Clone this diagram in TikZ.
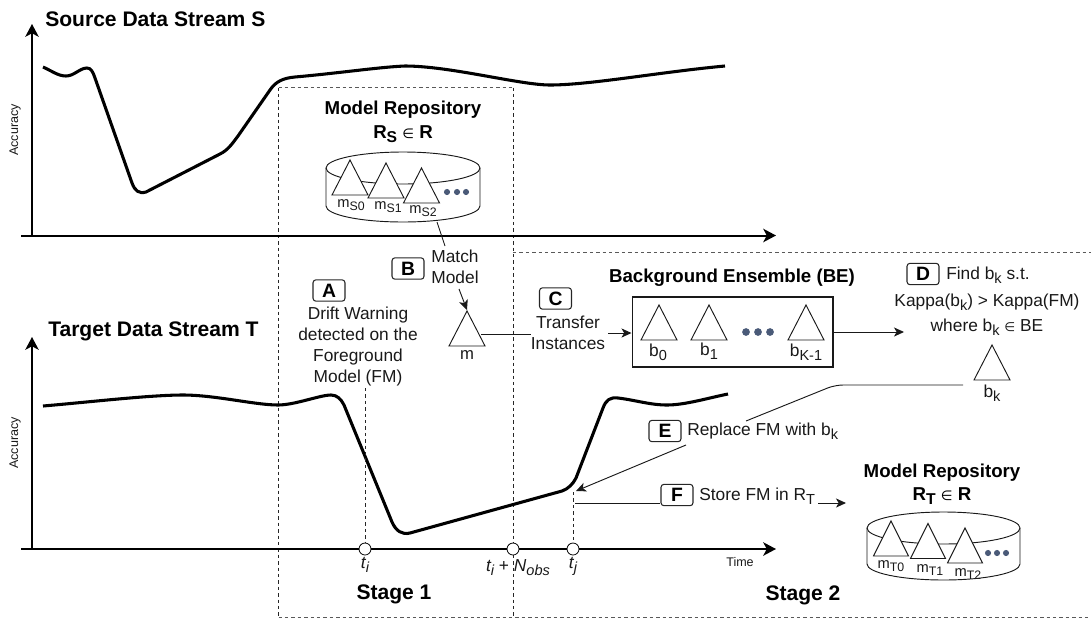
\documentclass[tikz,border=0pt]{standalone}
\usepackage{fontspec}
\usepackage{graphicx}
\setmainfont{Liberation Sans}
\newfontfamily\djv{DejaVu Sans}
\usetikzlibrary{arrows.meta}
\definecolor{dotc}{HTML}{4A5A78}
\newcommand{\lowr}[1]{\raisebox{-0.42ex}{\scalebox{0.84}{#1}}}
\newcommand{\elem}{{\mdseries\djv\scalebox{0.72}{∈}}}
\tikzset{
  x=0.75pt,y=-0.75pt,
  txt/.style={font=\fontsize{13}{15.6}\selectfont,inner sep=0pt,align=center,text=black!90},
  small/.style={font=\fontsize{11}{13}\selectfont,inner sep=0pt,text=black!90},
  ital/.style={font=\itshape\fontsize{13}{15}\selectfont,inner sep=0pt,text=black!90},
  head/.style={font=\bfseries\fontsize{14}{17.5}\selectfont,inner sep=0pt,align=center},
  bighead/.style={font=\bfseries\fontsize{15.8}{19}\selectfont,inner sep=0pt,align=center},
  axislabel/.style={font=\fontsize{9.4}{11}\selectfont,inner sep=0pt,text=black!90},
  stagebox/.style={draw=black!85,rounded corners=2.2pt,line width=0.8pt,minimum width=24pt,minimum height=16pt,inner sep=0pt,font=\bfseries\fontsize{14.5}{16}\selectfont},
  axisline/.style={line width=1.5pt,-{Stealth[length=9.5pt,width=10pt,inset=2.5pt]}},
  curveln/.style={line width=2.3pt,line join=round},
  dashln/.style={line width=0.65pt,dash pattern=on 2.6pt off 2.2pt,draw=black!85},
  greydash/.style={line width=0.65pt,dash pattern=on 2.6pt off 2.2pt,draw=black!65},
  conn/.style={line width=0.7pt,draw=black!90},
  arr/.style={conn,-{Stealth[length=7.5pt,width=6.8pt,inset=2pt]}},
  tick/.style={circle,draw=black,fill=white,line width=0.6pt,minimum size=9pt,inner sep=0pt},
  tri/.style={line width=0.7pt,fill=white,draw=black!90,line join=miter},
  dot/.style={circle,fill=dotc,inner sep=0pt,minimum size=4.6pt},
  bigdot/.style={circle,fill=dotc,inner sep=0pt,minimum size=5.8pt},
}
% apex x, apex y, half width
\newcommand{\treeat}[3]{\draw[tri] (#1,#2) -- (#1+#3,#2+35) -- (#1-#3,#2+35) -- cycle;}
\newcommand{\cyl}[4]{% cx, top y of ellipse, rx, height of wall
  \draw[line width=0.7pt,draw=black!90,fill=white] (#1-#3,#2+16) arc[start angle=180,end angle=0,x radius=#3*0.75pt,y radius=16*0.75pt]
     -- (#1+#3,#2+16+#4) arc[start angle=0,end angle=-180,x radius=#3*0.75pt,y radius=16*0.75pt] -- cycle;
  \draw[line width=0.7pt,draw=black!90] (#1-#3,#2+16) arc[start angle=180,end angle=360,x radius=#3*0.75pt,y radius=16*0.75pt];
}
\begin{document}
\begin{tikzpicture}
\useasboundingbox (0,0) rectangle (1091,618);

% headings
\node[bighead,anchor=west] (srctitle) at (45,19) {Source Data Stream S};
\node[bighead,anchor=west] (tgttitle) at (48,331) {Target Data Stream T};
\node[axislabel,rotate=90] (acc1) at (15,130) {Accuracy};
\node[axislabel,rotate=90] (acc2) at (15,443) {Accuracy};

% dashed stage regions
\coordinate (s1tl) at (278.5,87.5);
\coordinate (s1tr) at (513,87.5);
\coordinate (s1bl) at (278.5,617);
\coordinate (s1br) at (513,617);
\coordinate (s2t) at (513,252.5);
\coordinate (s2tr) at (1091,252.5);
\coordinate (s2br) at (1091,617);
\draw[greydash] (s1bl) -- (s2br);
\draw[greydash] (s2t) -- (s2tr);
\draw[greydash] (s1tl) -- (s1tr);
\draw[dashln] (s1tl) -- (s1bl);
\draw[dashln] (s1tr) -- (s1br);

% axes
\coordinate (o1) at (32,235.5);
\coordinate (y1) at (32,24);
\coordinate (x1s) at (21,235.5);
\coordinate (x1e) at (776,235.5);
\coordinate (o2) at (32,549);
\coordinate (y2) at (32,337);
\coordinate (x2s) at (21,549);
\coordinate (x2e) at (776,549);
\draw[axisline] (o1) -- (y1);
\draw[axisline] (x1s) -- (x1e);
\draw[axisline] (o2) -- (y2);
\draw[axisline] (x2s) -- (x2e);

% source curve
\draw[curveln]
  (43,67) .. controls (52,71) and (58,76) .. (66,76)
  .. controls (74,76) and (80,68) .. (87,68)
  .. controls (91,68) and (93,72) .. (95,78)
  -- (132,183) .. controls (135,191) and (139,194) .. (146,192)
  -- (220,154) .. controls (228,150) and (232,144) .. (238,136)
  -- (270,90) .. controls (276,81) and (284,78) .. (295,77)
  .. controls (340,73) and (380,67) .. (405,66)
  .. controls (450,66) and (520,85) .. (550,85)
  .. controls (590,85) and (660,72) .. (725,66);

% target curve
\draw[curveln]
  (43,406) .. controls (90,402) and (150,395) .. (183,395)
  .. controls (215,395) and (255,405) .. (278,405)
  .. controls (295,405) and (320,395) .. (331,395)
  .. controls (337,395) and (341,399) .. (344,405)
  -- (392,522) .. controls (396,531) and (402,535) .. (410,533)
  -- (562,491) .. controls (568,489) and (573,484) .. (576,478)
  -- (603,408) .. controls (606,400) and (610,397) .. (618,398)
  .. controls (635,400) and (650,405) .. (667,405)
  .. controls (685,405) and (708,398) .. (728,394);

% time marks
\node[tick] (ti) at (365,549) {};
\node[tick] (tn) at (513,549) {};
\node[tick] (tj) at (573,549) {};
\coordinate (tiup) at (365,388);
\coordinate (tjup) at (573,492);
\draw[dashln] (tiup) -- (ti);
\draw[dashln] (tjup) -- (tj);
\node[ital] (til) at (365,565) {t\lowr{i}};
\node[ital] (tnl) at (518,568) {t\lowr{i}\upshape{} + \itshape N\lowr{obs}};
\node[ital] (tjl) at (573,566) {t\lowr{j}};
\node[axislabel] (timel) at (740,562) {Time};
\node[bighead] (st1) at (394,594) {Stage 1};
\node[bighead] (st2) at (803,595) {Stage 2};

% source repository
\node[head] (repS) at (403,122) {Model Repository\\R\lowr{S} \elem{} R};
\cyl{403}{152}{77}{38}
\treeat{350}{160}{18}
\treeat{386}{163}{18}
\treeat{421.5}{168}{18}
\node[dot] at (447,192) {};
\node[dot] at (457,192) {};
\node[dot] at (466,192) {};
\node[small] (ms0) at (351,205) {m\lowr{S0}};
\node[small] (ms1) at (388,207) {m\lowr{S1}};
\node[small] (ms2) at (423,211) {m\lowr{S2}};

% match model
\coordinate (cylS) at (437,222);
\node[stagebox] (B) at (408,268.5) {B};
\node[txt] (match) at (455,267) {Match\\Model};
\coordinate (minto) at (445,246);
\draw[conn] (cylS) -- (minto);
\coordinate (mapex) at (467,310);
\treeat{467}{311}{18}
\node[small,font=\fontsize{12.5}{14}\selectfont] (ml) at (467,355) {m};
\coordinate (mout) at (459,289);
\draw[arr] (mout) -- (mapex);

% A
\node[stagebox] (A) at (329,290.5) {A};
\node[txt] (drift) at (358,346.5) {Drift Warning\\detected on the\\Foreground\\Model (FM)};

% C
\node[stagebox] (C) at (555.5,298.5) {C};
\node[txt] (transfer) at (568,332.5) {Transfer\\Instances};
\coordinate (mr) at (481,334);
\coordinate (tin) at (531,334);
\draw[conn] (mr) -- (tin);

% BE
\node[head] (betitle) at (732,278) {Background Ensemble (BE)};
\node[draw=black!90,line width=0.8pt,minimum width=150.7pt,minimum height=52.5pt,inner sep=0pt] (BE) at (732.5,332) {};
\coordinate (tout) at (608,333);
\draw[arr] (tout) -- (BE.west |- tout);
\treeat{659}{305}{18}
\treeat{709}{305}{18}
\treeat{806}{305}{18}
\node[bigdot] at (746,332) {};
\node[bigdot] at (758,332) {};
\node[bigdot] at (770,332) {};
\node[txt] (b0) at (658,352) {b\lowr{0}};
\node[txt] (b1) at (709,351) {b\lowr{1}};
\node[txt] (bk1) at (806,352) {b\lowr{K-1}};

% D
\node[stagebox] (D) at (923,274) {D};
\node[txt,anchor=west] (find) at (946,275) {Find b\lowr{k} s.t.};
\node[txt] (kappa) at (987,302) {Kappa(b\lowr{k}) > Kappa(FM)};
\node[txt] (where) at (987,327) {where b\lowr{k} \elem{} BE};
\coordinate (dto) at (904,332);
\draw[arr] (BE.east |- dto) -- (dto);
\treeat{992}{345}{18}
\node[txt] (bk) at (992,393) {b\lowr{k}};

% E
\node[stagebox] (E) at (665,431) {E};
\node[txt,anchor=west] (replace) at (687,431) {Replace FM with b\lowr{k}};
\coordinate (bkl) at (963,385);
\coordinate (bend) at (835,385);
\coordinate (estop) at (746,421);
\coordinate (estart) at (686,445);
\coordinate (curvehit) at (576,491);
\draw[conn,rounded corners=6pt] (bkl) -- (bend) -- (estop);
\draw[arr] (estart) -- (curvehit);

% F
\node[stagebox] (F) at (677,495) {F};
\node[txt,anchor=west] (store) at (699,496) {Store FM in R\lowr{T}};
\coordinate (fstart) at (575,503);
\coordinate (fto) at (846,503);
\coordinate (ffrom) at (818,503);
\draw[conn] (fstart) -- (F.west |- fstart);
\draw[arr] (ffrom) -- (fto);

% target repository
\node[head] (repT) at (942,484) {Model Repository\\R\lowr{T} \elem{} R};
\cyl{943.5}{512}{76.5}{36}
\treeat{891}{521}{17.5}
\treeat{928}{523.5}{17.5}
\treeat{965}{528}{17.5}
\node[dot] at (988,553) {};
\node[dot] at (997,553) {};
\node[dot] at (1006,553) {};
\node[small] (mt0) at (891,566) {m\lowr{T0}};
\node[small] (mt1) at (930,570) {m\lowr{T1}};
\node[small] (mt2) at (968,574) {m\lowr{T2}};
\end{tikzpicture}
\end{document}
